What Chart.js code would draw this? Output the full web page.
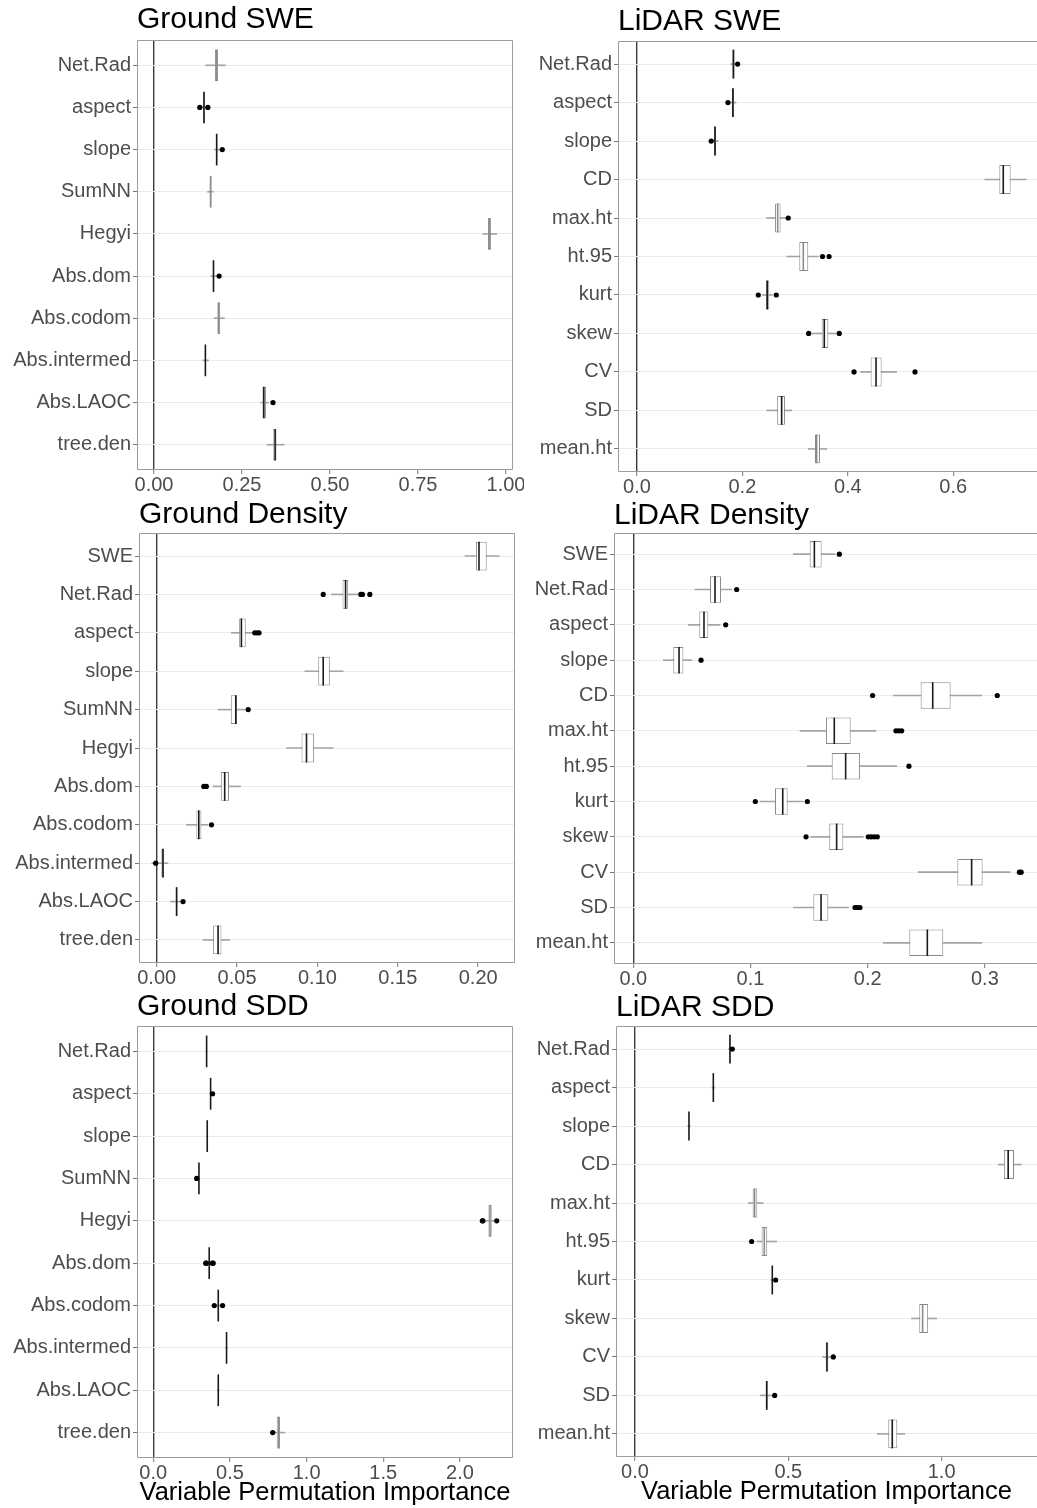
<!DOCTYPE html>
<html>
<head>
<meta charset="utf-8">
<script src="https://cdn.jsdelivr.net/npm/chart.js@4.4.0/dist/chart.umd.min.js"></script>
<style>
  html, body { margin: 0; padding: 0; background: #fff; overflow: hidden; width: 1037px; height: 1508px; }
  canvas { position: absolute; }
</style>
</head>
<body>
<canvas id="gSwe"></canvas>
<canvas id="lSwe"></canvas>
<canvas id="gDen"></canvas>
<canvas id="lDen"></canvas>
<canvas id="gSdd"></canvas>
<canvas id="lSdd"></canvas>
<script>
// variable names per model
const groundVars = ["Net.Rad", "aspect", "slope", "SumNN", "Hegyi", "Abs.dom", "Abs.codom", "Abs.intermed", "Abs.LAOC", "tree.den"];
const lidarVars = ["Net.Rad", "aspect", "slope", "CD", "max.ht", "ht.95", "kurt", "skew", "CV", "SD", "mean.ht"];
const groundDenVars = ["SWE"].concat(groundVars);
const lidarDenVars = ["SWE"].concat(lidarVars);

// box stats: [whisker low, q1, median, q3, whisker high]
const gSweStats = [
  [0.147, 0.173, 0.177, 0.182, 0.203],
  [0.135, 0.140, 0.142, 0.144, 0.149],
  [0.172, 0.176, 0.178, 0.180, 0.186],
  [0.152, 0.158, 0.161, 0.163, 0.168],
  [0.934, 0.949, 0.953, 0.957, 0.974],
  [0.162, 0.167, 0.169, 0.171, 0.179],
  [0.171, 0.180, 0.184, 0.188, 0.200],
  [0.139, 0.144, 0.146, 0.148, 0.155],
  [0.303, 0.308, 0.312, 0.318, 0.325],
  [0.321, 0.339, 0.344, 0.348, 0.370]
];
const gSweOutliers = [[], [0.130, 0.153], [0.194], [], [], [0.185], [], [], [0.338], []];

const lSweStats = [
  [0.178, 0.181, 0.183, 0.185, 0.188],
  [0.177, 0.180, 0.182, 0.184, 0.188],
  [0.144, 0.146, 0.148, 0.150, 0.154],
  [0.660, 0.6875, 0.695, 0.709, 0.739],
  [0.246, 0.262, 0.267, 0.2725, 0.284],
  [0.284, 0.308, 0.3156, 0.325, 0.344],
  [0.238, 0.2448, 0.2473, 0.251, 0.257],
  [0.332, 0.3504, 0.3554, 0.363, 0.378],
  [0.4245, 0.4433, 0.4536, 0.4642, 0.4928],
  [0.246, 0.266, 0.2745, 0.2808, 0.2935],
  [0.325, 0.3378, 0.3409, 0.3473, 0.360]
];
const lSweOutliers = [[0.191], [0.1726], [0.1408], [], [0.287], [0.352, 0.3645], [0.2302, 0.2643], [0.3258, 0.3838], [0.4118, 0.5275], [], []];

const gDenStats = [
  [0.1918, 0.1986, 0.2005, 0.2053, 0.2130],
  [0.1088, 0.1156, 0.1175, 0.1191, 0.1254],
  [0.0465, 0.0513, 0.0527, 0.0554, 0.0596],
  [0.0922, 0.1005, 0.1036, 0.1077, 0.1160],
  [0.0382, 0.0461, 0.0492, 0.0500, 0.0548],
  [0.0808, 0.0901, 0.0932, 0.0978, 0.1098],
  [0.0351, 0.0399, 0.0423, 0.0450, 0.0521],
  [0.0185, 0.0247, 0.0262, 0.0278, 0.0320],
  [-0.0030, 0.0029, 0.0039, 0.0046, 0.0070],
  [0.0085, 0.0118, 0.0124, 0.0129, 0.0154],
  [0.0288, 0.0351, 0.0382, 0.0403, 0.0455]
];
const gDenOutliers = [[], [0.1036, 0.127, 0.128, 0.1326], [0.061, 0.0625, 0.0637], [], [0.0569], [], [0.0293, 0.0309], [0.0341], [-0.0006], [0.0164], []];

const lDenStats = [
  [0.1365, 0.1505, 0.1545, 0.1607, 0.1721],
  [0.0526, 0.0654, 0.0697, 0.0748, 0.0840],
  [0.0469, 0.0563, 0.0603, 0.0640, 0.0740],
  [0.0256, 0.0341, 0.0390, 0.0427, 0.0498],
  [0.2218, 0.2452, 0.2555, 0.2708, 0.2973],
  [0.1422, 0.1644, 0.1715, 0.1855, 0.2071],
  [0.1485, 0.1693, 0.1812, 0.1934, 0.2247],
  [0.1081, 0.1209, 0.1275, 0.1317, 0.1450],
  [0.1513, 0.1672, 0.1735, 0.1792, 0.1962],
  [0.2432, 0.2765, 0.2887, 0.2981, 0.3214],
  [0.1365, 0.1536, 0.1602, 0.1664, 0.1835],
  [0.2133, 0.2355, 0.2509, 0.2645, 0.2973]
];
const lDenOutliers = [[0.1758], [0.0882], [0.0788], [0.0578], [0.2042, 0.3106], [0.2241, 0.2265, 0.229], [0.2352], [0.1041, 0.1485], [0.1474, 0.2005, 0.203, 0.2055, 0.2082], [0.3295, 0.331], [0.1892, 0.191, 0.1934], []];

const gSddStats = [
  [0.344, 0.346, 0.348, 0.350, 0.352],
  [0.368, 0.372, 0.374, 0.376, 0.380],
  [0.347, 0.350, 0.352, 0.354, 0.357],
  [0.291, 0.296, 0.298, 0.300, 0.304],
  [2.170, 2.186, 2.196, 2.207, 2.225],
  [0.355, 0.362, 0.365, 0.368, 0.376],
  [0.412, 0.420, 0.424, 0.428, 0.440],
  [0.472, 0.476, 0.478, 0.480, 0.484],
  [0.418, 0.422, 0.424, 0.426, 0.430],
  [0.790, 0.805, 0.818, 0.826, 0.860]
];
const gSddOutliers = [[], [0.387], [], [0.283], [2.146, 2.150, 2.240], [0.342, 0.347, 0.385, 0.391], [0.398, 0.452], [], [], [0.779]];

const lSddStats = [
  [0.305, 0.308, 0.3097, 0.311, 0.314],
  [0.251, 0.254, 0.2554, 0.257, 0.260],
  [0.172, 0.175, 0.176, 0.177, 0.180],
  [1.185, 1.203, 1.217, 1.236, 1.260],
  [0.370, 0.3837, 0.390, 0.3988, 0.418],
  [0.397, 0.4129, 0.4216, 0.4312, 0.462],
  [0.443, 0.446, 0.4477, 0.449, 0.453],
  [0.902, 0.927, 0.938, 0.956, 0.984],
  [0.612, 0.6217, 0.626, 0.6304, 0.637],
  [0.408, 0.427, 0.4294, 0.433, 0.445],
  [0.790, 0.8259, 0.839, 0.8553, 0.880]
];
const lSddOutliers = [[0.3174], [], [], [], [], [0.3804], [0.4586], [], [0.6467], [0.4555], []];

// x tick labels
const gSweTicks = ["0.00", "0.25", "0.50", "0.75", "1.00"];
const lSweTicks = ["0.0", "0.2", "0.4", "0.6"];
const gDenTicks = ["0.00", "0.05", "0.10", "0.15", "0.20"];
const lDenTicks = ["0.0", "0.1", "0.2", "0.3"];
const gSddTicks = ["0.0", "0.5", "1.0", "1.5", "2.0"];
const lSddTicks = ["0.0", "0.5", "1.0"];

const axisLabel = "Variable Permutation Importance";

// page placement of each panel (page px); right column is cut by the page edge
const panels = [
  { id: "gSwe", title: "Ground SWE", vars: groundVars, stats: gSweStats, outliers: gSweOutliers, ticks: gSweTicks,
    left: 0, top: 0, w: 524, h: 500, areaLeft: 137, areaRight: 513, areaTop: 40, areaBottom: 470, titleMid: 20,
    xMin: -0.0483, xMax: 1.0199, faint: ["Net.Rad", "SumNN", "Hegyi", "Abs.codom"] },
  { id: "lSwe", title: "LiDAR SWE", vars: lidarVars, stats: lSweStats, outliers: lSweOutliers, ticks: lSweTicks,
    left: 527, top: 0, w: 510, h: 500, areaLeft: 618, areaRight: 1037, areaTop: 41, areaBottom: 472, titleMid: 22,
    xMin: -0.036, xMax: 0.759, faint: ["max.ht", "ht.95", "mean.ht"], openRight: true },
  { id: "gDen", title: "Ground Density", vars: groundDenVars, stats: gDenStats, outliers: gDenOutliers, ticks: gDenTicks,
    left: 0, top: 500, w: 527, h: 490, areaLeft: 139, areaRight: 515, areaTop: 533, areaBottom: 963, titleMid: 15,
    xMin: -0.011, xMax: 0.2229, faint: [] },
  { id: "lDen", title: "LiDAR Density", vars: lidarDenVars, stats: lDenStats, outliers: lDenOutliers, ticks: lDenTicks,
    left: 527, top: 500, w: 510, h: 490, areaLeft: 614, areaRight: 1037, areaTop: 533, areaBottom: 964, titleMid: 15.5,
    xMin: -0.0165, xMax: 0.3445, faint: [], openRight: true },
  { id: "gSdd", title: "Ground SDD", vars: groundVars, stats: gSddStats, outliers: gSddOutliers, ticks: gSddTicks,
    left: 0, top: 990, w: 527, h: 518, areaLeft: 137, areaRight: 513, areaTop: 1026, areaBottom: 1458, titleMid: 17,
    xMin: -0.106, xMax: 2.346, faint: ["Hegyi", "tree.den"], xTitle: axisLabel, xTitlePad: 2 },
  { id: "lSdd", title: "LiDAR SDD", vars: lidarVars, stats: lSddStats, outliers: lSddOutliers, ticks: lSddTicks,
    left: 527, top: 990, w: 510, h: 518, areaLeft: 616, areaRight: 1037, areaTop: 1026, areaBottom: 1457, titleMid: 17.5,
    xMin: -0.062, xMax: 1.311, faint: ["max.ht", "ht.95", "skew"], xTitle: axisLabel, xTitlePad: 3.5, openRight: true }
];

Chart.defaults.font.family = '"Liberation Sans", Arial, sans-serif';
Chart.defaults.color = "#4d4d4d";

// ggplot-like panel border drawn on top of the boxes
const panelBorder = {
  id: "panelBorder",
  afterDatasetsDraw(chart, args, opts) {
    const a = chart.chartArea;
    const ctx = chart.ctx;
    const l = Math.round(a.left) + 0.5, t = Math.round(a.top) + 0.5;
    const r = opts.openRight ? chart.width + 2 : Math.round(a.right) - 0.5;
    const b = Math.round(a.bottom) - 0.5;
    ctx.save();
    ctx.strokeStyle = "#9c9c9c";
    ctx.lineWidth = 1;
    ctx.beginPath();
    ctx.moveTo(r, t);
    ctx.lineTo(l, t);
    ctx.lineTo(l, b);
    ctx.lineTo(r, b);
    if (!opts.openRight) ctx.closePath();
    ctx.stroke();
    ctx.restore();
  }
};

function rowGap(chart) {
  const y = chart.scales.y;
  return Math.abs(y.getPixelForValue(1) - y.getPixelForValue(0));
}

function drawPanel(p) {
  const canvas = document.getElementById(p.id);
  canvas.width = p.w;
  canvas.height = p.h;
  canvas.style.left = p.left + "px";
  canvas.style.top = p.top + "px";

  const axisW = p.areaLeft - p.left;
  const padRight = p.w - (p.areaRight - p.left);
  const xAxisH = p.h - (p.areaBottom - p.top);
  const titleTop = p.titleMid - 15;
  const titleBottom = (p.areaTop - p.top) - titleTop - 30;

  const outPts = [];
  p.outliers.forEach((list, i) => list.forEach(v => outPts.push({ x: v, y: i })));

  new Chart(canvas, {
    type: "bar",
    data: {
      datasets: [
        {
          type: "scatter",
          data: outPts,
          pointRadius: 2.6,
          backgroundColor: "#000",
          borderWidth: 0,
          order: 0
        },
        {
          type: "scatter",
          data: p.stats.map((s, i) => ({ x: s[2], y: i })),
          pointStyle: "line",
          rotation: 90,
          pointRadius: ctx => rowGap(ctx.chart) * 0.375,
          borderWidth: 1.6,
          borderColor: ctx => p.faint.includes(p.vars[ctx.dataIndex]) ? "#8c8c8c" : "#1a1a1a",
          order: 1
        },
        {
          data: p.stats.map((s, i) => ({ x: [s[1], s[3]], y: i })),
          backgroundColor: "#fff",
          borderColor: "#8a8a8a",
          borderWidth: 1,
          borderSkipped: false,
          barPercentage: 0.75,
          categoryPercentage: 1,
          grouped: false,
          order: 2
        },
        {
          data: p.stats.map((s, i) => ({ x: [s[0], s[4]], y: i })),
          backgroundColor: "#a4a4a4",
          barThickness: 1,
          grouped: false,
          order: 3
        }
      ]
    },
    options: {
      indexAxis: "y",
      responsive: false,
      animation: false,
      events: [],
      layout: { autoPadding: false, padding: { left: 0, right: padRight, top: 0, bottom: 0 } },
      plugins: {
        legend: { display: false },
        tooltip: { enabled: false },
        panelBorder: { openRight: !!p.openRight },
        title: {
          display: true,
          text: p.title,
          align: "start",
          fullSize: false,
          color: "#000",
          font: { size: 30, weight: "normal", lineHeight: 1 },
          padding: { top: titleTop, bottom: titleBottom }
        }
      },
      scales: {
        x: {
          type: "linear",
          min: p.xMin,
          max: p.xMax,
          bounds: "data",
          offset: false,
          afterBuildTicks: s => { s.ticks = p.ticks.map(t => ({ value: parseFloat(t) })); },
          afterFit: s => { s.height = xAxisH; s.paddingLeft = 0; s.paddingRight = 0; },
          ticks: {
            callback: (v, i) => p.ticks[i],
            font: { size: 20, lineHeight: 1 },
            color: "#4d4d4d",
            padding: 1,
            maxRotation: 0,
            autoSkip: false
          },
          grid: {
            offset: false,
            color: ctx => (ctx.tick && ctx.tick.value === 0) ? "#3c3c3c" : "rgba(0,0,0,0)",
            lineWidth: 1.4,
            drawTicks: true,
            tickLength: 4,
            tickColor: "#777",
            tickWidth: 1
          },
          border: { display: false },
          title: {
            display: !!p.xTitle,
            text: p.xTitle || "",
            color: "#000",
            font: { size: 25.5, lineHeight: 1 },
            padding: { top: 0, bottom: p.xTitlePad || 0 }
          }
        },
        y: {
          type: "linear",
          reverse: true,
          min: -0.6,
          max: p.vars.length - 0.4,
          bounds: "data",
          offset: false,
          afterBuildTicks: s => { s.ticks = p.vars.map((_, i) => ({ value: i })); },
          afterFit: s => { s.width = axisW; s.paddingTop = 0; s.paddingBottom = 0; },
          ticks: {
            callback: v => p.vars[v],
            font: { size: 20, lineHeight: 1 },
            color: "#4d4d4d",
            padding: 2,
            autoSkip: false
          },
          grid: {
            offset: false,
            color: "#ececec",
            lineWidth: 1,
            drawTicks: true,
            tickLength: 4,
            tickColor: "#777"
          },
          border: { display: false }
        }
      }
    },
    plugins: [panelBorder]
  });
}

panels.forEach(drawPanel);
</script>
</body>
</html>
